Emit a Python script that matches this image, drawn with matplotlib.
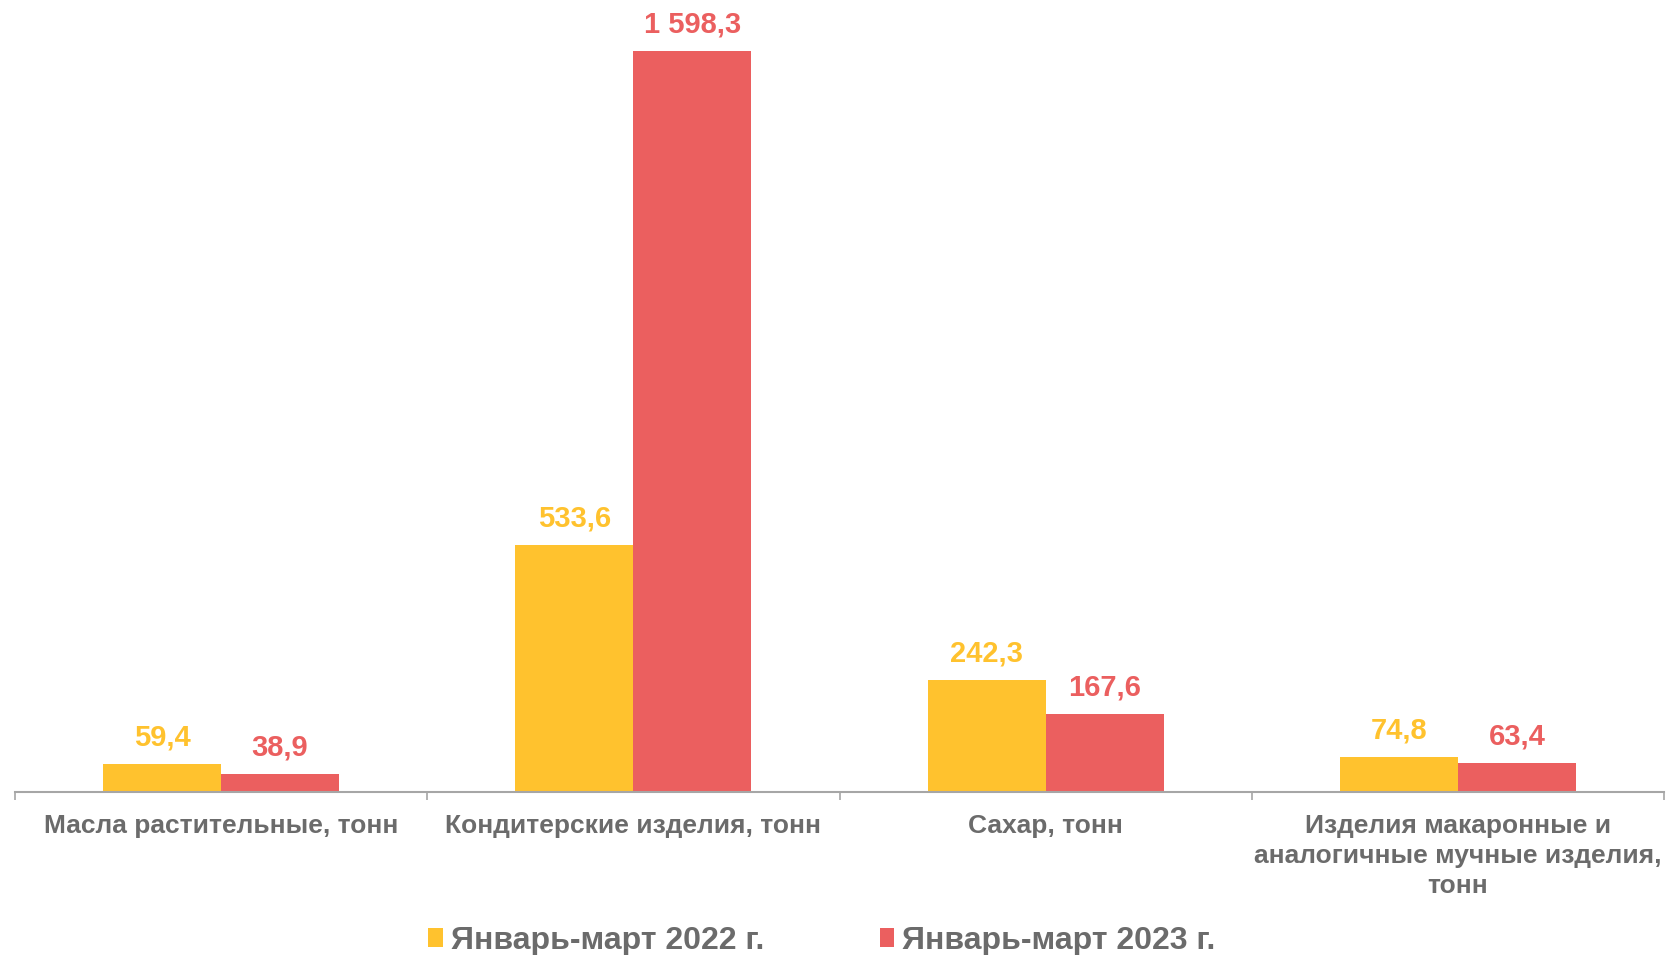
import matplotlib.pyplot as plt
import numpy as np

categories = ['Масла растительные, тонн',
              'Кондитерские изделия, тонн',
              'Сахар, тонн',
              'Изделия макаронные и\nаналогичные мучные изделия,\nтонн']
series_names = ['Январь-март 2022 г.', 'Январь-март 2023 г.']
values_2022 = [59.4, 533.6, 242.3, 74.8]
values_2023 = [38.9, 1598.3, 167.6, 63.4]

colors = ['#FFC22E', '#EB5F5F']
text_gray = '#6B6B6B'
axis_gray = '#A6A6A6'

plt.rcParams['font.family'] = ['Liberation Sans', 'DejaVu Sans']


def fmt(v):
    # russian style: space as thousands sep, comma as decimal
    s = f'{v:,.1f}'
    return s.replace(',', ' ').replace('.', ',')


fig = plt.figure(figsize=(16.67, 9.55), dpi=100)
ax = fig.add_axes([15 / 1667, 1 - 792 / 955, 1649 / 1667, 792 / 955])

X = np.arange(len(categories))
width = 0.286
all_vals = [values_2022, values_2023]
offsets = [-width / 2, width / 2]
for vals, off, col, name in zip(all_vals, offsets, colors, series_names):
    rects = ax.bar(X + off, vals, width, color=col, label=name)
    for r, v in zip(rects, vals):
        ax.annotate(fmt(v), (r.get_x() + r.get_width() / 2, r.get_height()),
                    xytext=(0, 9), textcoords='offset points',
                    ha='center', va='bottom', fontsize=21,
                    fontweight='bold', color=col)

ax.set_xlim(-0.5, len(categories) - 0.5)
ax.set_ylim(0, 1708)
ax.set_yticks([])
for side in ['left', 'right', 'top']:
    ax.spines[side].set_visible(False)
ax.spines['bottom'].set_color(axis_gray)
ax.spines['bottom'].set_linewidth(1.5)

ax.set_xticks(X)
ax.set_xticklabels(categories, fontsize=19, fontweight='bold',
                   color=text_gray, linespacing=1.32)
ax.tick_params(axis='x', which='major', length=0, pad=16)
ax.set_xticks(np.arange(len(categories) + 1) - 0.5, minor=True)
ax.tick_params(axis='x', which='minor', length=6, width=1.2, color=axis_gray)

leg = fig.legend(loc='center', bbox_to_anchor=(822 / 1667, 1 - 941 / 955),
                 ncol=2, frameon=False, handlelength=0.44, handleheight=0.56,
                 handletextpad=0.27, columnspacing=3.6,
                 prop={'weight': 'bold', 'size': 23})
for t in leg.get_texts():
    t.set_color(text_gray)

plt.savefig('out.png', dpi=100)
